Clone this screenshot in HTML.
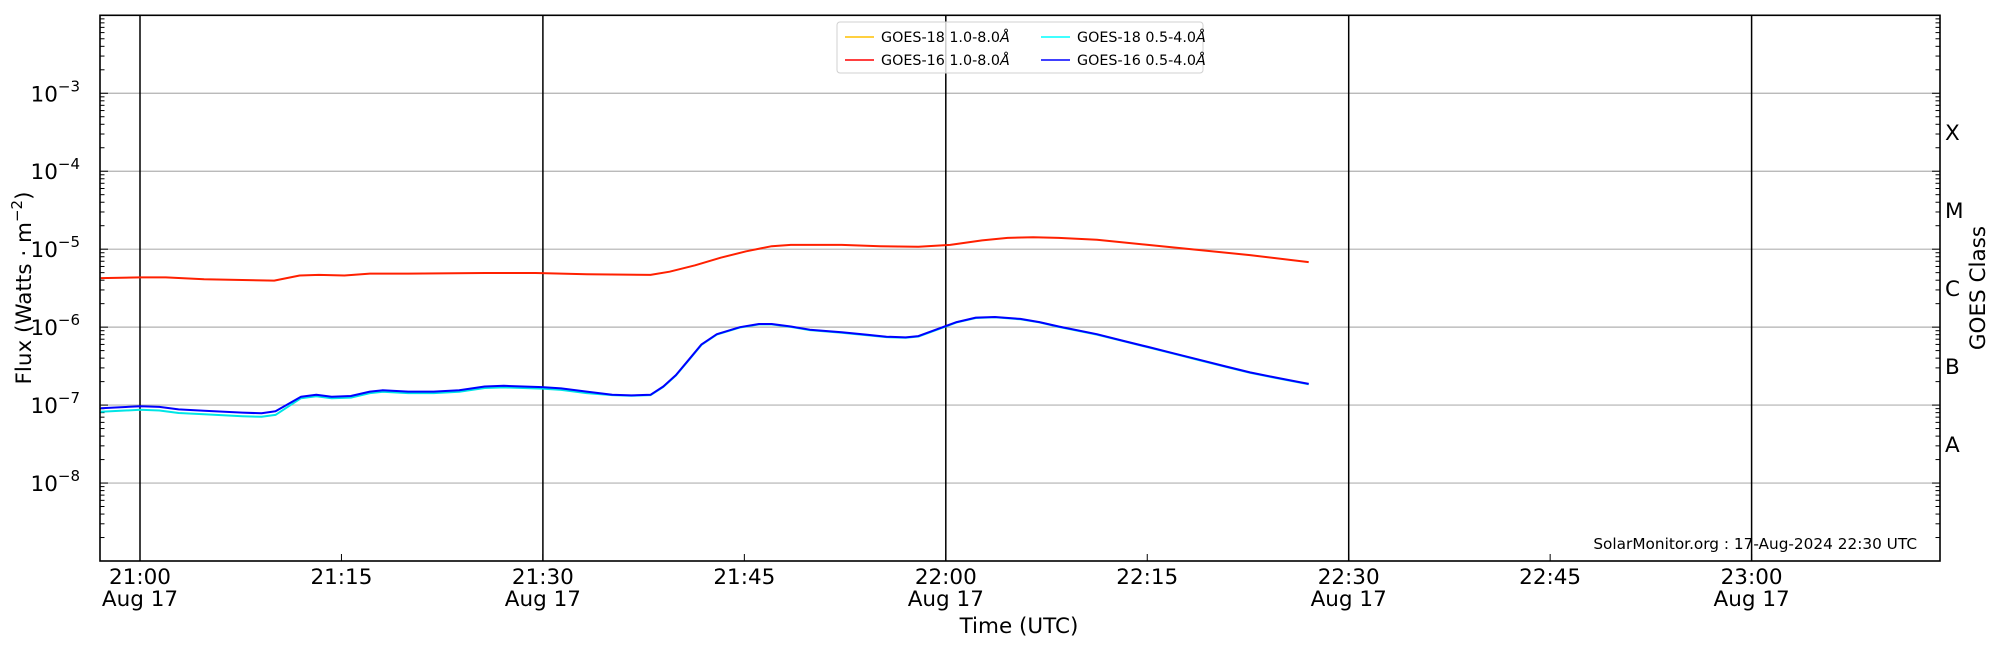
<!DOCTYPE html>
<html><head><meta charset="utf-8"><style>
html,body{margin:0;padding:0;background:#fff;}
svg{display:block;font-family:"DejaVu Sans","Liberation Sans",sans-serif;}
</style></head><body>
<svg id="s" width="2000" height="650" xmlns="http://www.w3.org/2000/svg"></svg>
<script>
const S=1.2755;
const L=100,R=1940,T=15.3,B=561;
const yOf=l=>T+(-2-l)*(B-T)/7;
const xOf=m=>140+m*13.43;
const FS=21.5;
let h='';
for(let l=-8;l<=-3;l++){h+=`<line x1="${L}" x2="${R}" y1="${yOf(l)}" y2="${yOf(l)}" stroke="#b0b0b0" stroke-width="1.2"/>`;}
for(let m=0;m<=120;m+=30){h+=`<line x1="${xOf(m)}" x2="${xOf(m)}" y1="${T}" y2="${B}" stroke="#000" stroke-width="1.5"/>`;}
for(let l=-9;l<-2;l++){
 for(let k=1;k<10;k++){const y=yOf(l+Math.log10(k)); if(y<T||y>B)continue;
  const len=k==1?8:4.5;
  h+=`<line x1="${L}" x2="${L+len}" y1="${y}" y2="${y}" stroke="#000" stroke-width="1"/>`;
  h+=`<line x1="${R}" x2="${R-len}" y1="${y}" y2="${y}" stroke="#000" stroke-width="1"/>`;}
}
for(let m=0;m<=120;m+=15){h+=`<line x1="${xOf(m)}" x2="${xOf(m)}" y1="${B}" y2="${B-7}" stroke="#000" stroke-width="1"/>`;
 const hh=21+Math.floor(m/60), mm=m%60;
 h+=`<text x="${xOf(m)}" y="584" font-size="${FS}" text-anchor="middle">${hh}:${mm<10?'0'+mm:mm}</text>`;
 if(m%30==0) h+=`<text x="${xOf(m)}" y="606" font-size="${FS}" text-anchor="middle">Aug 17</text>`;
}
for(let l=-8;l<=-3;l++){const y=yOf(l);
 h+=`<text x="80" y="${y+8}" font-size="${FS}" text-anchor="end">10<tspan dy="-10" font-size="15">−${-l}</tspan></text>`;}
const cls=['A','B','C','M','X'];
cls.forEach((c,i)=>{const y=yOf(-7.5+i);h+=`<text x="1945" y="${y+8}" font-size="${FS}">${c}</text>`;});
function pl(pts,col,w){return `<polyline fill="none" stroke="${col}" stroke-width="${w}" stroke-linejoin="round" points="${pts.map(p=>(p[0]*S).toFixed(1)+','+(p[1]*S).toFixed(1)).join(' ')}"/>`;}
const red=[[79,218],[110,217.5],[130,217.5],[160,219],[190,219.5],[215,220],[235,216],[250,215.5],[270,216],[290,214.5],[320,214.5],[380,214],[420,214],[460,215],[510,215.5],[525,213],[545,208],[565,202],[585,197],[605,193],[620,192],[660,192],[690,193],[720,193.5],[745,192],[770,188.5],[790,186.5],[810,186],[830,186.5],[860,188],[900,192],[940,196],[980,200],[1026,205.5]];
const blue=[[79,320],[110,318.5],[125,319],[140,321],[160,322],[190,323.5],[205,324],[216,322.5],[236,311],[248,309.5],[260,311],[275,310.5],[290,307],[300,306],[320,307],[340,307],[360,306],[380,303],[395,302.5],[410,303],[425,303.5],[440,304.5],[460,307],[480,309.5],[495,310],[510,309.5],[520,303],[530,294],[540,282],[550,270],[562,262],[580,256.5],[595,254],[605,254],[620,256],[635,258.5],[660,260.5],[680,262.5],[695,264],[710,264.5],[720,263.5],[735,258],[750,252.5],[765,249],[780,248.5],[800,250],[815,252.5],[830,256],[860,262],[880,267],[900,272],[920,277],[940,282],[960,287],[980,292],[1000,296],[1026,301]];
const cyan=blue.map(p=>[p[0],p[1]+(p[0]<230?2.8:(p[0]<480?1.2:0.3))]);
h+=pl(cyan,'#00e5e5',2);
h+=pl(blue,'#0000ff',2);
h+=pl(red,'#ff2000',2);
h+=`<rect x="${L}" y="${T}" width="${R-L}" height="${B-T}" fill="none" stroke="#000" stroke-width="1.6"/>`;
h+=`<rect x="837" y="22" width="366" height="51" rx="3" fill="#fff" fill-opacity="0.8" stroke="#d0d0d0"/>`;
const lg=[[845,37,'#ffc000','GOES-18 1.0-8.0'],[845,60,'#ff0000','GOES-16 1.0-8.0'],[1041,37,'#00ffff','GOES-18 0.5-4.0'],[1041,60,'#0000ff','GOES-16 0.5-4.0']];
lg.forEach(e=>{h+=`<line x1="${e[0]}" x2="${e[0]+29}" y1="${e[1]}" y2="${e[1]}" stroke="${e[2]}" stroke-width="1.5"/>`;
 h+=`<text x="${e[0]+36}" y="${e[1]+5}" font-size="14.3">${e[3]}<tspan font-style="italic">Å</tspan></text>`;});
h+=`<text x="1917" y="549" font-size="15.3" text-anchor="end">SolarMonitor.org : 17-Aug-2024 22:30 UTC</text>`;
h+=`<text x="1019" y="633" font-size="${FS}" text-anchor="middle">Time (UTC)</text>`;
h+=`<text transform="translate(31,288) rotate(-90)" font-size="${FS}" text-anchor="middle">Flux (Watts · m<tspan dy="-9" font-size="15">−2</tspan><tspan dy="9">)</tspan></text>`;
h+=`<text transform="translate(1985,288) rotate(-90)" font-size="${FS}" text-anchor="middle">GOES Class</text>`;
document.getElementById('s').innerHTML=h;
</script>
</body></html>
